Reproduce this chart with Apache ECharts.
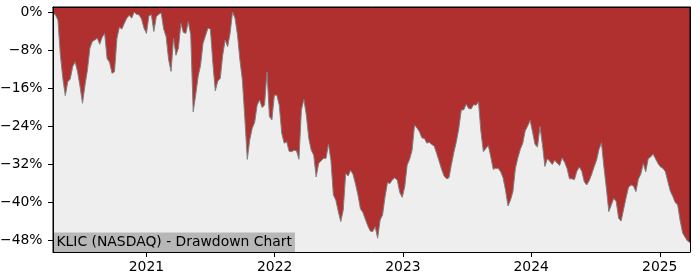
<!DOCTYPE html>
<html>
<head>
<meta charset="utf-8">
<script src="https://cdn.jsdelivr.net/npm/echarts@6/dist/echarts.min.js"></script>
<style>html,body{margin:0;padding:0;background:#fff}#c{width:700px;height:280px}</style>
</head>
<body>
<div id="c"></div>
<script>
// Weekly drawdown samples (%), first sample on 2020-04-10, one per week
const startDate = [2020, 3, 10];
const drawdown = [
  -0.3, -0.6, -1.7, -9.1, -14.0, -17.6, -14.7, -14.1, -11.5, -10.5,
  -12.6, -15.7, -19.2, -15.4, -12.2, -7.6, -6.2, -5.9, -5.5, -6.8,
  -5.3, -4.5, -9.8, -10.6, -12.9, -12.6, -5.5, -3.2, -3.6, -2.4,
  -1.3, -0.7, -1.3, 0, -0.5, -0.6, -1.5, -3.4, -4.5, -0.8,
  -0.6, -4.1, -1.0, -0.5,
  -0.2, -3.6, -5.2, -10.0, -12.5, -5.5, -9.1, -7.6, -2.4, -4.3,
  -4.5, -2.0, -4.8, -21.0, -17.5, -13.6, -11.2, -6.6, -5.0, -3.4,
  -3.6, -10.8, -16.6, -14.5, -14.0, -9.1, -5.9, -7.3, -4.5, 0,
  -1.3, -4.8, -10.1, -14.3, -22.4, -31.0, -26.9, -24.5, -23.2, -19.6,
  -18.5, -20.1, -19.6,
  -12.6, -22.0, -22.7, -17.5, -17.5, -19.6, -25.5, -27.6, -27.3, -29.3,
  -29.4, -29.1, -29.2, -31.0, -20.6, -18.4, -21.7, -26.6, -29.1, -30.1,
  -34.7, -31.9, -31.3, -30.8, -30.8, -27.8, -31.2, -38.5, -39.6, -42.0,
  -44.1, -41.7, -34.0, -34.5, -33.3, -34.2, -36.2, -38.5, -41.4, -42.2,
  -43.6, -45.0, -46.1,
  -46.2, -45.2, -47.6, -43.8, -42.7, -38.9, -35.9, -36.1, -35.3, -34.9,
  -35.4, -38.0, -39.0, -36.8, -32.2, -31.0, -29.1, -23.8, -24.4, -25.2,
  -26.5, -26.6, -27.6, -27.4, -27.9, -28.2, -29.8, -31.4, -33.1, -34.5,
  -35.1, -34.9, -32.1, -29.5, -27.3, -24.5, -20.6, -20.6, -19.4, -20.3,
  -20.4, -19.5, -19.6,
  -18.9, -25.2, -29.4, -28.7, -28.1, -30.5, -33.1, -32.9, -32.9, -33.6,
  -34.9, -37.5, -40.8, -39.6, -37.8, -32.9, -30.7, -28.9, -27.6, -25.0,
  -24.0, -22.8, -25.3, -27.9, -28.4, -24.1, -27.9, -32.5, -30.9, -31.4,
  -32.1, -31.2, -31.8, -32.3, -30.7, -31.6, -32.9, -35.1, -35.1, -35.3,
  -33.5, -32.6, -33.5, -35.7,
  -36.4, -35.5, -34.2, -32.6, -31.2, -28.9, -27.5, -32.6, -37.1, -42.0,
  -40.6, -39.2, -39.9, -43.4, -44.0, -41.5, -39.1, -36.9, -36.4, -36.6,
  -37.8, -35.2, -34.1, -31.9, -33.6, -30.9, -30.5, -29.9, -30.9, -31.9,
  -32.6, -32.9, -33.6, -35.7, -37.7, -38.8, -40.1, -40.6, -43.9, -46.5,
  -47.4, -48.2, -48.5
];
const yTickValues = [0, -8, -16, -24, -32, -40, -48];
const xTickYears = [2021, 2022, 2023, 2024, 2025];
const titleText = 'KLIC (NASDAQ) - Drawdown Chart';

const dates = drawdown.map((_, i) => new Date(startDate[0], startDate[1], startDate[2] + 7 * i).getTime());
const seriesData = dates.map((d, i) => [d, drawdown[i]]);
const xMin = dates[0];
const xMax = dates[dates.length - 1];
const xTicks = xTickYears.map(y => new Date(y, 0, 1).getTime());
const font = 'DejaVu Sans';
const fs = 13.9;

const chart = echarts.init(document.getElementById('c'), null, {renderer: 'canvas'});
chart.setOption({
  animation: false,
  backgroundColor: '#ffffff',
  title: {
    text: titleText,
    left: 53.5, top: 232.5,
    padding: [2, 3, 2, 3],
    backgroundColor: '#b7b7b7',
    textStyle: {fontFamily: font, fontSize: fs, fontWeight: 'normal', color: '#000', lineHeight: 16}
  },
  grid: {left: 53, right: 10, top: 7, bottom: 28, containLabel: false, outerBoundsMode: 'none', show: true, backgroundColor: '#b03030', borderColor: '#000', borderWidth: 1},
  xAxis: [{
    type: 'value', min: xMin, max: xMax, z: 10, scale: true,
    axisLine: {show: true, onZero: false, lineStyle: {color: '#000', width: 1}},
    axisTick: {show: true, length: 5, lineStyle: {color: '#000', width: 1}, customValues: xTicks},
    axisLabel: {customValues: xTicks, formatter: v => String(new Date(v).getFullYear()), color: '#000', fontSize: fs, fontFamily: font, margin: 8},
    splitLine: {show: false}
  }, {
    type: 'value', position: 'top', min: xMin, max: xMax, z: 10, scale: true,
    axisLine: {show: true, onZero: false, lineStyle: {color: '#000', width: 1}},
    axisTick: {show: false}, axisLabel: {show: false}, splitLine: {show: false}
  }],
  yAxis: [{
    type: 'value', min: -50.5, max: 1.05, z: 10,
    axisLine: {show: true, onZero: false, lineStyle: {color: '#000', width: 1}},
    axisTick: {show: true, length: 5, lineStyle: {color: '#000', width: 1}, customValues: yTickValues},
    axisLabel: {customValues: yTickValues, formatter: v => (v < 0 ? '\u2212' : '') + Math.abs(v) + '%', color: '#000', fontSize: fs, fontFamily: font, margin: 10.5},
    splitLine: {show: false}
  }, {
    type: 'value', position: 'right', min: -50.5, max: 1.05, z: 10,
    axisLine: {show: true, onZero: false, lineStyle: {color: '#000', width: 1}},
    axisTick: {show: false}, axisLabel: {show: false}, splitLine: {show: false}
  }],
  series: [{
    type: 'line',
    data: seriesData,
    showSymbol: false,
    symbol: 'none',
    lineStyle: {color: '#808080', width: 1},
    areaStyle: {color: '#eeeeee', opacity: 1, origin: 'start'},
    z: 2
  }]
});
</script>
</body>
</html>
